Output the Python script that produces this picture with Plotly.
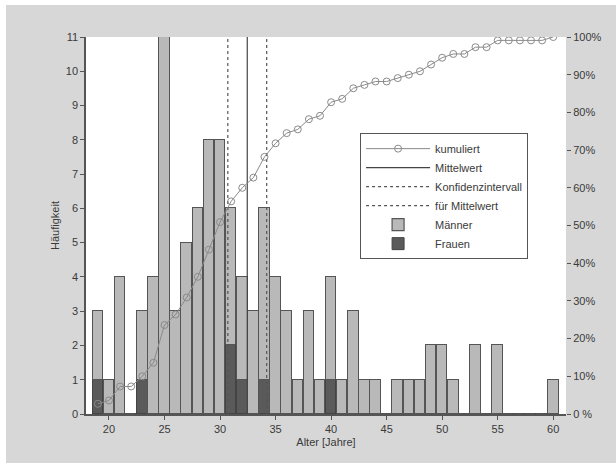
import plotly.graph_objects as go

# ---- data ----
ages = [19, 20, 21, 22, 23, 24, 25, 26, 27, 28, 29, 30, 31, 32, 33, 34, 35, 36, 37, 38, 39,
        40, 41, 42, 43, 44, 45, 46, 47, 48, 49, 50, 51, 52, 53, 54, 55, 56, 57, 58, 59, 60]
men = [2, 1, 4, 0, 2, 4, 11, 3, 5, 6, 8, 8, 4, 3, 3, 5, 4, 3, 1, 3, 1,
       3, 1, 3, 1, 1, 0, 1, 1, 1, 2, 2, 1, 0, 2, 0, 2, 0, 0, 0, 0, 1]
women = [1, 0, 0, 0, 1, 0, 0, 0, 0, 0, 0, 0, 2, 1, 0, 1, 0, 0, 0, 0, 0,
         1, 0, 0, 0, 0, 0, 0, 0, 0, 0, 0, 0, 0, 0, 0, 0, 0, 0, 0, 0, 0]
cum_pct = [2.7, 3.6, 7.3, 7.3, 10.0, 13.6, 23.6, 26.4, 30.9, 36.4, 43.6, 50.9, 56.4, 60.0,
           62.7, 68.2, 71.8, 74.5, 75.5, 78.2, 79.1, 82.7, 83.6, 86.4, 87.3, 88.2, 88.2,
           89.1, 90.0, 90.9, 92.7, 94.5, 95.5, 95.5, 97.3, 97.3, 99.1, 99.1, 99.1, 99.1,
           99.1, 100.0]
mean_age = 32.45
ci_low, ci_high = 30.7, 34.2
x_ticks = [20, 25, 30, 35, 40, 45, 50, 55, 60]
y_ticks = list(range(0, 12))
pct_ticks = list(range(0, 101, 10))
pct_labels = ["0 %"] + [f"{p}%" for p in pct_ticks[1:]]

FONT = "Liberation Sans, Arial, sans-serif"
TXT = "#3a3a3a"
EDGE = "#555555"
W, H = 616, 463
ML, MR, MT, MB = 86, 50, 37, 49
PW, PH = W - ML - MR, H - MT - MB

fig = go.Figure()

fig.add_trace(go.Bar(x=ages, y=women, name="Frauen", width=0.95,
                     marker=dict(color="#5a5a5a", line=dict(color="#444444", width=1)),
                     legendrank=6))
fig.add_trace(go.Bar(x=ages, y=men, name="Männer", width=0.95,
                     marker=dict(color="#b9b9b9", line=dict(color=EDGE, width=1.2)),
                     legendrank=5))

fig.add_trace(go.Scatter(x=[mean_age, mean_age], y=[0, 11], mode="lines", name="Mittelwert",
                         line=dict(color="#444444", width=1.2), legendrank=2))
fig.add_trace(go.Scatter(x=[ci_low, ci_low], y=[0, 11], mode="lines", name="Konfidenzintervall",
                         line=dict(color="#555555", width=1.2, dash="dot"), legendrank=3))
fig.add_trace(go.Scatter(x=[ci_high, ci_high], y=[0, 11], mode="lines", name="für Mittelwert",
                         line=dict(color="#555555", width=1.2, dash="dot"), legendrank=4))

fig.add_trace(go.Scatter(x=ages, y=cum_pct, yaxis="y2", mode="lines+markers", name="kumuliert",
                         line=dict(color="#8a8a8a", width=1),
                         marker=dict(symbol="circle-open", size=7, color="#8a8a8a",
                                     line=dict(width=1)),
                         legendrank=1))

# thin white strips at the top and left edge of the scanned page
fig.add_shape(type="rect", xref="paper", yref="paper", layer="above",
              x0=-ML / PW, x1=(6 - ML) / PW, y0=-MB / PH, y1=1 + MT / PH,
              fillcolor="white", line=dict(width=0))
fig.add_shape(type="rect", xref="paper", yref="paper", layer="above",
              x0=-ML / PW, x1=1 + MR / PW, y0=1 + (MT - 5) / PH, y1=1 + MT / PH,
              fillcolor="white", line=dict(width=0))

fig.update_layout(
    width=W, height=H,
    margin=dict(l=ML, r=MR, t=MT, b=MB, autoexpand=False),
    paper_bgcolor="#d7d7d7",
    plot_bgcolor="white",
    barmode="stack",
    bargap=0,
    font=dict(family=FONT, size=11, color=TXT),
    xaxis=dict(range=[17.93, 61.15], tickvals=x_ticks, ticks="outside", ticklen=4,
               tickcolor=EDGE, showline=True, linecolor=EDGE, linewidth=1.5,
               showgrid=False, zeroline=False, automargin=False,
               title=dict(text="Alter [Jahre]", font=dict(size=11), standoff=4)),
    yaxis=dict(range=[0, 11], tickvals=y_ticks, ticks="outside", ticklen=4,
               tickcolor=EDGE, showline=True, linecolor=EDGE, linewidth=1.5,
               showgrid=False, zeroline=False, automargin=False,
               title=dict(text="Häufigkeit", font=dict(size=11), standoff=4)),
    yaxis2=dict(range=[0, 100], overlaying="y", side="right", tickvals=pct_ticks,
                ticktext=pct_labels, ticks="outside", ticklen=4, tickcolor=EDGE,
                showline=False, showgrid=False, zeroline=False, automargin=False),
    legend=dict(x=0.571, y=0.745, xanchor="left", yanchor="top",
                bgcolor="white", bordercolor="#555555", borderwidth=1,
                font=dict(size=11, color=TXT), traceorder="normal",
                tracegroupgap=0, itemwidth=64),
    showlegend=True,
)

fig.write_html("out.html", config={"displayModeBar": False},
               post_script="document.body.style.margin='0px';document.body.style.overflow='hidden';")
